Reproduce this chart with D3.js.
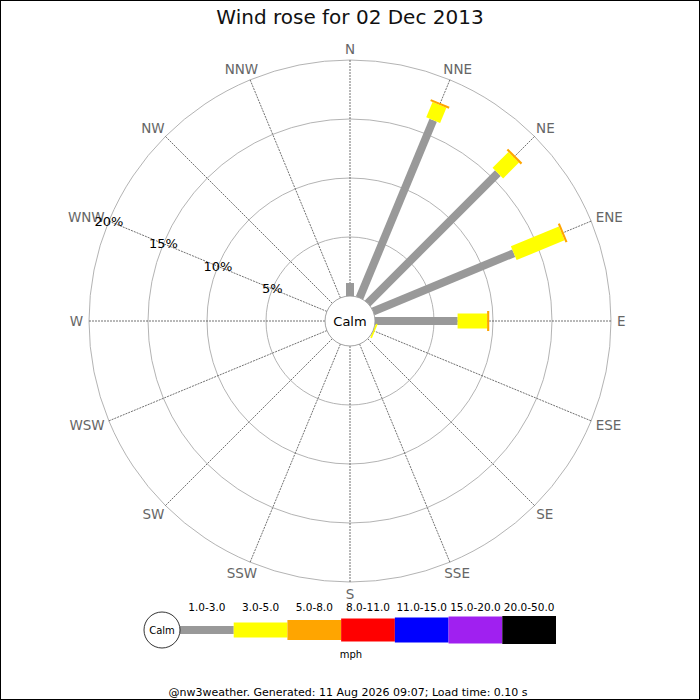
<!DOCTYPE html>
<html>
<head>
<meta charset="utf-8">
<script src="https://cdn.jsdelivr.net/npm/d3@7"></script>
<style>
  body { margin: 0; background: #fff; }
  svg { display: block; font-family: "DejaVu Sans", sans-serif; }
</style>
</head>
<body>
<svg id="canvas" width="700" height="700"></svg>
<script>
// chart data
let directions = ['N', 'NNE', 'NE', 'ENE', 'E', 'ESE', 'SE', 'SSE',
	'S', 'SSW', 'SW', 'WSW', 'W', 'WNW', 'NW', 'NNW'];
let speedBands = ['1.0-3.0', '3.0-5.0', '5.0-8.0', '8.0-11.0', '11.0-15.0', '15.0-20.0', '20.0-50.0'];
// percent of the day per direction, one array per speed band
let band1to3 = [1.1, 16.3, 15.6, 12.9, 7.0, 0, 0, 0, 0, 0, 0, 0, 0, 0, 0, 0];
let band3to5 = [0, 1.4, 1.9, 4.4, 2.5, 0.15, 0, 0, 0, 0, 0, 0, 0, 0, 0, 0];
let band5to8 = [0, 0.18, 0.18, 0.18, 0.18, 0, 0, 0, 0, 0, 0, 0, 0, 0, 0, 0];
let ringTicks = [5, 10, 15, 20];
let titleText = 'Wind rose for 02 Dec 2013';
let footerText = '@nw3weather. Generated: 11 Aug 2026 09:07; Load time: 0.10 s';

// styles
let bandColors = ['#999999', '#ffff00', '#ffa500', '#ff0000', '#0000ff', '#a020f0', '#000000'];
let bandWidths = [8, 15, 20, 23, 25, 27, 28];

let canvas = d3.select('#canvas');
let cx = 350, cy = 321, calmR = 25, outerR = 261;

let rScale = d3.scaleLinear().domain([0, 20]).range([calmR, outerR]);
let dirAngle = (d) => directions.indexOf(d) * 22.5;
let polar = (deg, r) => {
	let a = (deg - 90) * Math.PI / 180;
	return [cx + r * Math.cos(a), cy + r * Math.sin(a)];
};

canvas.append('rect')
	.attr('x', 0.5).attr('y', 0.5)
	.attr('width', 699).attr('height', 699)
	.attr('fill', 'none').attr('stroke', '#000');

canvas.append('text')
	.attr('x', 350).attr('y', 24)
	.attr('text-anchor', 'middle')
	.attr('font-size', 20)
	.attr('fill', '#111')
	.text(titleText);

// rings
canvas.append('g')
	.selectAll('circle')
	.data(ringTicks)
	.enter()
	.append('circle')
	.attr('cx', cx).attr('cy', cy)
	.attr('r', (t) => rScale(t))
	.attr('fill', 'none')
	.attr('stroke', '#aaa')
	.attr('stroke-width', 0.9);

// spokes
canvas.append('g')
	.selectAll('line')
	.data(directions)
	.enter()
	.append('line')
	.attr('x1', (d) => polar(dirAngle(d), calmR)[0])
	.attr('y1', (d) => polar(dirAngle(d), calmR)[1])
	.attr('x2', (d) => polar(dirAngle(d), outerR)[0])
	.attr('y2', (d) => polar(dirAngle(d), outerR)[1])
	.attr('stroke', '#333')
	.attr('stroke-width', 0.7)
	.attr('stroke-dasharray', '2,1');

// direction labels, pushed just outside the outer ring
let labelR = 267, labelH = 11;
canvas.append('g')
	.selectAll('text')
	.data(directions)
	.enter()
	.append('text')
	.attr('text-anchor', 'middle')
	.attr('dominant-baseline', 'central')
	.attr('font-size', 13.5)
	.attr('fill', '#666')
	.text((d) => d)
	.each(function (d) {
		let w = this.getComputedTextLength();
		let a = dirAngle(d) * Math.PI / 180;
		let p = polar(dirAngle(d), labelR);
		d3.select(this)
			.attr('x', p[0] + (w / 2) * Math.sin(a))
			.attr('y', p[1] - (labelH / 2) * Math.cos(a));
	});

// bars, stacked outwards
let bandValues = [band1to3, band3to5, band5to8];
let segments = [];
directions.forEach((dir, i) => {
	let cum = 0;
	bandValues.forEach((vals, b) => {
		let v = vals[i];
		if (v > 0) segments.push({ dir: dir, band: b, from: cum, to: cum + v });
		cum += v;
	});
});

canvas.append('g')
	.selectAll('rect')
	.data(segments)
	.enter()
	.append('rect')
	.attr('transform', (s) => 'translate(' + cx + ',' + cy + ') rotate(' + (dirAngle(s.dir) - 90) + ')')
	.attr('x', (s) => rScale(s.from))
	.attr('width', (s) => rScale(s.to) - rScale(s.from))
	.attr('y', (s) => -bandWidths[s.band] / 2)
	.attr('height', (s) => bandWidths[s.band])
	.attr('fill', (s) => bandColors[s.band]);

// calm circle
canvas.append('circle')
	.attr('cx', cx).attr('cy', cy).attr('r', calmR)
	.attr('fill', '#fff')
	.attr('stroke', '#999')
	.attr('stroke-width', 0.9);
canvas.append('text')
	.attr('x', cx).attr('y', cy)
	.attr('text-anchor', 'middle')
	.attr('dominant-baseline', 'central')
	.attr('font-size', 13)
	.text('Calm');

// percent labels along WNW
canvas.append('g')
	.selectAll('text')
	.data(ringTicks)
	.enter()
	.append('text')
	.attr('x', (t) => polar(dirAngle('WNW'), rScale(t))[0])
	.attr('y', (t) => polar(dirAngle('WNW'), rScale(t))[1])
	.attr('text-anchor', 'middle')
	.attr('dominant-baseline', 'central')
	.attr('font-size', 13)
	.attr('fill', '#000')
	.text((t) => t + '%');

// legend
let legendX = d3.scaleBand().domain(speedBands).range([180, 556]);
let legendY = 630;
let legend = canvas.append('g');

legend.selectAll('rect')
	.data(speedBands)
	.enter()
	.append('rect')
	.attr('x', (b) => legendX(b))
	.attr('width', legendX.bandwidth())
	.attr('y', (b, i) => legendY - bandWidths[i] / 2)
	.attr('height', (b, i) => bandWidths[i])
	.attr('fill', (b, i) => bandColors[i]);

legend.selectAll('text.band')
	.data(speedBands)
	.enter()
	.append('text')
	.attr('class', 'band')
	.attr('x', (b) => legendX(b) + legendX.bandwidth() / 2)
	.attr('y', 611)
	.attr('text-anchor', 'middle')
	.attr('font-size', 10.5)
	.text((b) => b);

legend.append('circle')
	.attr('cx', 162).attr('cy', legendY).attr('r', 18)
	.attr('fill', '#fff')
	.attr('stroke', '#000')
	.attr('stroke-width', 0.8);
legend.append('text')
	.attr('x', 162).attr('y', legendY)
	.attr('text-anchor', 'middle')
	.attr('dominant-baseline', 'central')
	.attr('font-size', 10)
	.text('Calm');
legend.append('text')
	.attr('x', 351).attr('y', 658)
	.attr('text-anchor', 'middle')
	.attr('font-size', 10)
	.text('mph');

canvas.append('text')
	.attr('x', 348).attr('y', 696)
	.attr('text-anchor', 'middle')
	.attr('font-size', 11)
	.text(footerText);
</script>
</body>
</html>
